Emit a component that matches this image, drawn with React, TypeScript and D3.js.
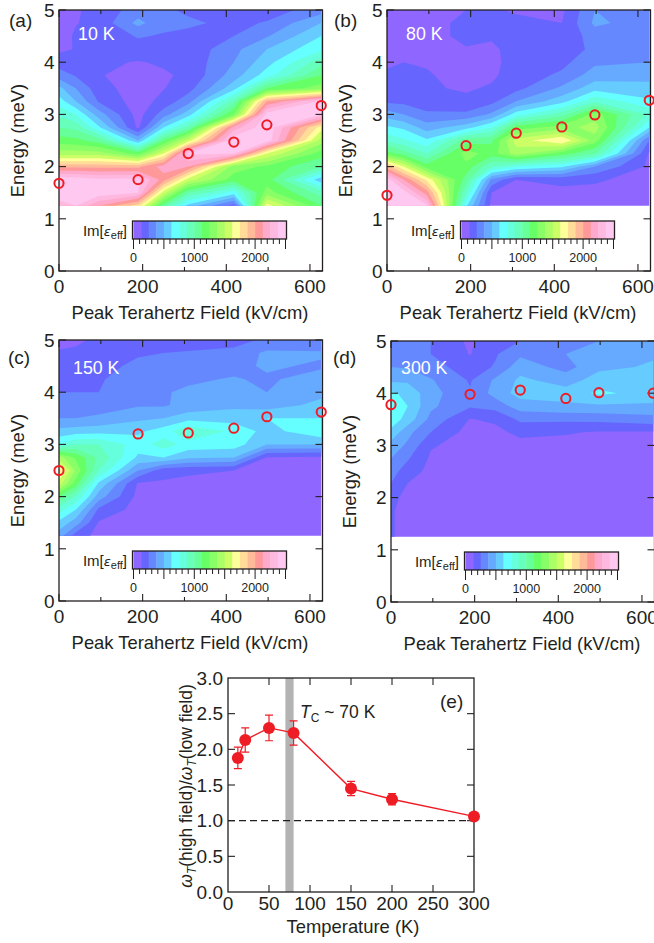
import { useEffect, useRef } from 'react';
import * as d3 from 'd3';

const FONT = 'Liberation Sans, Arial, sans-serif';
const RED = '#ee1c25';
const INK = '#231f20';

// contour grid: columns in kV/cm, rows in meV
const gridFields = [0, 40, 95, 189, 250, 309, 418, 497, 627];
const gridEnergies = [1.25, 1.5, 1.75, 2, 2.25, 2.5, 2.75, 3, 3.25, 3.5, 3.75, 4, 4.25, 4.5, 4.75, 5];

// one entry per colour band of the bar, 125 wide
const bandStep = 125;
const bandColors = [
  '#8f66ff', '#6666ff', '#6688ff', '#66aaff', '#66ccff',
  '#66ffff', '#66ffdd', '#66ffbb', '#66ff99', '#66ff66',
  '#88ff66', '#aaff66', '#ccff66', '#ffff99', '#ffdd99',
  '#ffbb99', '#ff9999', '#ffaacc', '#ffb9e0', '#ffc8f0',
];

// Im[eps_eff] in band units, one row of energies per field column
const im10K = [
  [18.5, 19.7, 19.7, 15.7, 11.5, 9.5, 8, 6.8, 5.5, 4.3, 2.5, 1.5, 0.8, 0.5, 0.3, 0.3],
  [19, 19.7, 19.7, 15.7, 11.5, 9.3, 7.7, 6, 4, 3, 1.9, 1.3, 1.05, 1.15, 0.95, 0.9],
  [17, 19.7, 19.2, 15.7, 11.5, 8.5, 5.2, 3.5, 1.9, 1.4, 1.07, 1.15, 1.2, 1.25, 1.3, 1.3],
  [14.5, 19, 19.3, 15.7, 9.5, 4, 0.8, 0.6, 0.5, 0.5, 0.6, 0.95, 1.5, 2.1, 3.3, 2.5],
  [8.5, 12.5, 16.5, 17.5, 13, 9, 5, 2.5, 1.35, 0.95, 0.9, 1.1, 1.3, 1.9, 2.3, 2.2],
  [4.6, 8, 12.5, 17, 19.2, 12.5, 7.6, 4.6, 2.6, 1.6, 1.15, 1.3, 1.3, 1.7, 2.2, 1.8],
  [1.5, 5.5, 9.5, 10.5, 19, 19.7, 17.5, 10, 7.6, 4.6, 3.5, 3, 2.7, 2, 1.7, 1.2],
  [13.5, 10.5, 9.5, 9.8, 13, 19.7, 19.8, 19.5, 16, 9, 5.5, 4.6, 4, 2.9, 2.1, 1.5],
  [9, 7.5, 4.3, 8, 9.5, 11.5, 13.5, 19, 19.2, 10.5, 9, 7.6, 5.8, 5, 4, 2.5],
];
const im80K = [
  [19.5, 19.7, 19.5, 15.5, 9.5, 6.8, 5.2, 3.5, 1.8, 1.3, 1.1, 0.9, 0.7, 0.7, 0.6, 0.6],
  [19.5, 19.5, 17, 13, 8.5, 6.2, 4.8, 3, 1.7, 1.2, 1.1, 1, 0.75, 0.7, 0.65, 0.65],
  [19.2, 16.5, 13.8, 9.5, 7, 5.2, 3.5, 2.2, 1.4, 1.1, 1.05, 0.95, 0.8, 0.7, 0.7, 0.8],
  [5.2, 7, 8.5, 9.7, 10.5, 8.5, 4.6, 2.2, 1.2, 0.9, 0.8, 0.7, 0.95, 1.2, 1.2, 1],
  [0.7, 1, 2.8, 7, 9.5, 8.8, 6, 3.2, 1.7, 1.1, 0.85, 0.8, 0.85, 1.1, 1.2, 1.1],
  [0.6, 0.7, 1, 6, 11.5, 12.5, 9.5, 5.5, 3, 1.7, 1.4, 1.3, 1.3, 1.3, 1.2, 0.9],
  [0.6, 0.7, 1.3, 5.2, 9.5, 14, 10.5, 7.6, 4.6, 3.2, 2.2, 1.7, 1.3, 1.2, 1, 0.8],
  [0.6, 0.8, 1.1, 3, 8, 10.5, 11.5, 10.5, 6.8, 4.6, 3.5, 2.8, 2.3, 2.5, 3.2, 3],
  [0.6, 0.6, 0.7, 0.8, 0.9, 2, 5, 6.8, 5.2, 4.3, 3.7, 3, 2.8, 2.7, 2.5, 2.2],
];
const im150K = [
  [3.5, 4.7, 6.5, 9, 12.5, 14.5, 11.5, 6, 4.3, 3, 2.2, 2, 1.5, 1.2, 1.05, 0.85],
  [1.5, 3.5, 5, 7, 9.5, 10.8, 9.8, 7, 4.5, 3, 2.2, 2, 1.6, 1.3, 1.1, 0.9],
  [0.7, 0.9, 1.8, 3.5, 4.8, 7, 7.8, 7, 4.6, 3.2, 2.5, 2, 1.9, 1.7, 1.4, 1.1],
  [0.6, 0.6, 0.6, 0.7, 0.9, 3, 4.8, 5.5, 4.8, 3.8, 2.9, 2.8, 2.5, 2.2, 1.9, 1.3],
  [0.6, 0.6, 0.6, 0.6, 0.85, 1.4, 5, 6.5, 5.5, 4, 2.9, 2.95, 2.7, 2.3, 2, 1.4],
  [0.6, 0.6, 0.6, 0.6, 0.7, 1.2, 4.2, 5.6, 6.9, 4.6, 3.3, 3.1, 2.9, 2.5, 2.1, 1.5],
  [0.6, 0.6, 0.6, 0.6, 0.7, 1, 4, 5.5, 5.8, 4.5, 3.8, 3.5, 3.05, 2.8, 2.3, 1.6],
  [0.6, 0.6, 0.6, 0.6, 0.6, 0.7, 0.95, 4, 4.6, 5, 3.5, 3, 2.9, 3.1, 3.2, 2.2],
  [0.6, 0.6, 0.6, 0.6, 0.6, 0.6, 0.8, 4, 5.8, 5, 4.3, 3.7, 3.3, 2.9, 3.1, 2.4],
];
const im300K = [
  [1.1, 1.1, 1.1, 1.3, 1.95, 2.4, 3, 3.6, 4.7, 5.6, 5.8, 5.2, 3.8, 3, 2.4, 2.1],
  [0.65, 0.65, 0.65, 0.7, 0.95, 1.5, 2.1, 2.8, 3.3, 4.6, 5, 4.7, 3.8, 2.9, 2.3, 2.1],
  [0.6, 0.6, 0.6, 0.6, 0.6, 0.7, 0.85, 1.1, 2, 2.7, 3.2, 3.4, 3.1, 2.4, 2, 2],
  [0.6, 0.6, 0.6, 0.6, 0.6, 0.6, 0.6, 0.6, 0.6, 0.95, 2.1, 2.1, 1.9, 1.5, 0.95, 0.8],
  [0.6, 0.6, 0.6, 0.6, 0.6, 0.6, 0.6, 0.6, 0.7, 1.2, 2.4, 3.4, 3.2, 2.1, 1.9, 1.9],
  [0.6, 0.6, 0.6, 0.6, 0.6, 0.6, 0.6, 0.6, 1.3, 2.2, 3.5, 4.4, 4.2, 3.6, 2.8, 2],
  [0.6, 0.6, 0.6, 0.6, 0.6, 0.6, 0.6, 0.6, 1.1, 2.2, 3.8, 4.4, 3.6, 2.6, 3, 2.5],
  [0.6, 0.6, 0.6, 0.6, 0.6, 0.6, 0.6, 0.6, 0.9, 2.3, 3.8, 5.2, 4.4, 3.8, 4, 3],
  [0.6, 0.6, 0.6, 0.6, 0.6, 0.6, 0.6, 0.6, 0.9, 2.6, 3.8, 4.6, 4.3, 4.1, 3.9, 3.5],
];

// red circles: resonance energy at each field
const peakFields = [0, 189, 309, 418, 497, 627];
const peaks10K = [1.68, 1.75, 2.25, 2.47, 2.8, 3.17];
const peaks80K = [1.45, 2.4, 2.64, 2.76, 2.99, 3.27];
const peaks150K = [2.5, 3.2, 3.22, 3.31, 3.53, 3.62];
const peaks300K = [3.78, 3.98, 4.06, 3.9, 4.01, 4.0];

// panel (e)
const ratioTemps = [12, 21, 50, 80, 150, 200, 300];
const ratioValues = [1.88, 2.13, 2.3, 2.23, 1.45, 1.3, 1.06];
const ratioErrors = [0.15, 0.17, 0.18, 0.17, 0.1, 0.08, 0.03];

const panels = [
  { id: '(a)', temp: '10 K', im: im10K, peaks: peaks10K, left: 59, top: 10, bottom: 271, idX: 9, idY: 27, tempX: 78, tempY: 40 },
  { id: '(b)', temp: '80 K', im: im80K, peaks: peaks80K, left: 387, top: 10, bottom: 271, idX: 334, idY: 27, tempX: 406, tempY: 40 },
  { id: '(c)', temp: '150 K', im: im150K, peaks: peaks150K, left: 59, top: 340, bottom: 601, idX: 8, idY: 364, tempX: 73, tempY: 374 },
  { id: '(d)', temp: '300 K', im: im300K, peaks: peaks300K, left: 391, top: 341, bottom: 602, idX: 333, idY: 364, tempX: 401, tempY: 374 },
];

type G = d3.Selection<SVGGElement, unknown, null, undefined>;

function label(g: G, x: number, y: number, text: string, size = 19, anchor = 'start', fill = INK) {
  return g
    .append('text')
    .attr('x', x)
    .attr('y', y)
    .attr('font-size', size)
    .attr('font-family', FONT)
    .attr('text-anchor', anchor)
    .attr('fill', fill)
    .text(text);
}

// inward ticks on all four sides of a frame
function frameTicks(g: G, x: any, y: any, xMajor: number[], xMinor: number[], yMajor: number[]) {
  const [x0, x1] = x.range();
  const [y0, y1] = y.range();
  const line = (a: number, b: number, c: number, d: number) =>
    g.append('line').attr('x1', a).attr('y1', b).attr('x2', c).attr('y2', d).attr('stroke', INK).attr('stroke-width', 1.1);
  xMajor.forEach(v => {
    line(x(v), y0, x(v), y0 - 7);
    line(x(v), y1, x(v), y1 + 7);
  });
  xMinor.forEach(v => {
    line(x(v), y0, x(v), y0 - 4);
    line(x(v), y1, x(v), y1 + 4);
  });
  yMajor.forEach(v => {
    line(x0, y(v), x0 + 7, y(v));
    line(x1, y(v), x1 - 7, y(v));
  });
  g.append('rect')
    .attr('x', x0)
    .attr('y', y1)
    .attr('width', x1 - x0)
    .attr('height', y0 - y1)
    .attr('fill', 'none')
    .attr('stroke', INK)
    .attr('stroke-width', 1.3);
}

function drawMap(root: G, p: (typeof panels)[number]) {
  const g = root.append('g');
  const x = d3.scaleLinear().domain([0, 630]).range([p.left, p.left + 263.5]);
  const y = d3.scaleLinear().domain([0, 5]).range([p.bottom, p.top]);

  const nx = gridFields.length;
  const ny = gridEnergies.length;
  const values: number[] = [];
  gridEnergies.forEach((_, r) => gridFields.forEach((__, c) => values.push(p.im[c][r] * bandStep)));

  // contour coordinates are grid indices + 0.5, map them back on data units
  const colToField = d3.scaleLinear().domain(d3.range(nx)).range(gridFields).clamp(true);
  const rowToEnergy = d3.scaleLinear().domain(d3.range(ny)).range(gridEnergies).clamp(true);
  const path = d3.geoPath(
    d3.geoTransform({
      point(cx: number, cy: number) {
        this.stream.point(x(colToField(cx - 0.5)), y(rowToEnergy(cy - 0.5)));
      },
    })
  );

  const map = g.append('g').attr('filter', 'url(#soft)');
  map
    .append('rect')
    .attr('x', x(gridFields[0]))
    .attr('y', y(gridEnergies[ny - 1]))
    .attr('width', x(gridFields[nx - 1]) - x(gridFields[0]))
    .attr('height', y(gridEnergies[0]) - y(gridEnergies[ny - 1]))
    .attr('fill', bandColors[0]);

  const thresholds = bandColors.slice(1).map((_, i) => (i + 1) * bandStep);
  const contours = d3.contours().size([nx, ny]).thresholds(thresholds)(values);
  map
    .selectAll('path.band')
    .data(contours)
    .join('path')
    .attr('class', 'band')
    .attr('d', d => path(d))
    .attr('fill', (_, i) => bandColors[i + 1]);

  frameTicks(g, x, y, [0, 200, 400, 600], [100, 300, 500], [0, 1, 2, 3, 4, 5]);

  [0, 200, 400, 600].forEach(v => label(g, x(v), p.bottom + 22, String(v), 19, 'middle'));
  [0, 1, 2, 3, 4, 5].forEach(v => label(g, p.left - 4.5, y(v) + 6.8, String(v), 19, 'end'));
  label(g, p.left + 131, p.bottom + 48, 'Peak Terahertz Field (kV/cm)', 18.4, 'middle');
  label(g, 0, 0, 'Energy (meV)', 18.4, 'middle').attr(
    'transform',
    `translate(${p.left - 35},${(p.top + p.bottom) / 2}) rotate(-90)`
  );

  label(root, p.idX, p.idY, p.id, 19);
  label(root, p.tempX, p.tempY, p.temp, 17.8, 'start', '#ffffff');

  g.selectAll('circle')
    .data(p.peaks)
    .join('circle')
    .attr('cx', (_, i) => x(peakFields[i]))
    .attr('cy', d => y(d))
    .attr('r', 4.6)
    .attr('fill', 'none')
    .attr('stroke', RED)
    .attr('stroke-width', 2);

  // colour bar
  const barTop = p.bottom - 50;
  const bar = d3.scaleLinear().domain([0, 2500]).range([p.left + 74.5, p.left + 226.5]);
  g.selectAll('rect.swatch')
    .data(bandColors)
    .join('rect')
    .attr('class', 'swatch')
    .attr('x', (_, i) => bar(i * bandStep))
    .attr('y', barTop)
    .attr('width', bar(bandStep) - bar(0) + 0.4)
    .attr('height', 18)
    .attr('fill', d => d);
  g.append('rect')
    .attr('x', bar(0) - 1)
    .attr('y', barTop)
    .attr('width', bar(2500) - bar(0) + 2)
    .attr('height', 18)
    .attr('fill', 'none')
    .attr('stroke', INK)
    .attr('stroke-width', 1.3);
  d3.range(0, 2501, 100).forEach(v => {
    g.append('line')
      .attr('x1', bar(v))
      .attr('x2', bar(v))
      .attr('y1', barTop + 18)
      .attr('y2', barTop + (v % 500 === 0 ? 28 : 23))
      .attr('stroke', INK)
      .attr('stroke-width', 1);
  });
  [0, 1000, 2000].forEach(v => label(g, bar(v), barTop + 41, String(v), 12.5, 'middle'));

  const imText = label(g, p.left + 68, barTop + 15, '', 15, 'end');
  imText.append('tspan').text('Im[');
  imText.append('tspan').attr('font-family', 'DejaVu Sans').attr('font-style', 'italic').attr('font-size', 13).text('ε');
  imText.append('tspan').attr('font-size', 11).attr('dy', 3).text('eff');
  imText.append('tspan').attr('dy', -3).text(']');
}

function drawRatio(root: G) {
  const g = root.append('g');
  const x = d3.scaleLinear().domain([0, 300]).range([228, 474]);
  const y = d3.scaleLinear().domain([0, 3]).range([892, 678]);

  // Tc marker
  g.append('rect')
    .attr('x', x(70))
    .attr('y', y(3))
    .attr('width', x(80) - x(70))
    .attr('height', y(0) - y(3))
    .attr('fill', '#b3b3b3');

  g.append('line')
    .attr('x1', x(0))
    .attr('x2', x(300))
    .attr('y1', y(1))
    .attr('y2', y(1))
    .attr('stroke', INK)
    .attr('stroke-width', 1.2)
    .attr('stroke-dasharray', '7 4');

  frameTicks(g, x, y, d3.range(50, 300, 50), [], d3.range(0.5, 3, 0.5));

  const line = d3
    .line<number>()
    .x(d => x(d))
    .y((_, i) => y(ratioValues[i]));
  g.append('path').attr('d', line(ratioTemps)).attr('fill', 'none').attr('stroke', RED).attr('stroke-width', 1.4);

  ratioTemps.forEach((t, i) => {
    const top = y(ratioValues[i] + ratioErrors[i]);
    const bot = y(ratioValues[i] - ratioErrors[i]);
    g.append('path')
      .attr('d', `M${x(t)},${top}V${bot}M${x(t) - 4},${top}H${x(t) + 4}M${x(t) - 4},${bot}H${x(t) + 4}`)
      .attr('stroke', RED)
      .attr('stroke-width', 1.2)
      .attr('fill', 'none');
    g.append('circle').attr('cx', x(t)).attr('cy', y(ratioValues[i])).attr('r', 6).attr('fill', RED);
  });

  d3.range(0, 301, 50).forEach(v => label(g, x(v), 910, String(v), 19, 'middle'));
  d3.range(0, 3.01, 0.5).forEach(v => label(g, 223, y(v) + 6.8, v.toFixed(1), 19, 'end'));
  label(g, 353, 933, 'Temperature (K)', 18.4, 'middle');
  label(g, 440, 708, '(e)', 19);

  const tc = label(g, 300, 718, '', 17.5);
  tc.append('tspan').attr('font-style', 'italic').text('T');
  tc.append('tspan').attr('font-size', 12).attr('dy', 4).text('C');
  tc.append('tspan').attr('dy', -4).text(' ~ 70 K');

  const title = label(g, 0, 0, '', 17.5, 'middle').attr('transform', 'translate(192,786) rotate(-90)');
  title.append('tspan').attr('font-style', 'italic').text('ω');
  title.append('tspan').attr('font-style', 'italic').attr('font-size', 12).attr('dy', 4).text('T');
  title.append('tspan').attr('dy', -4).text('(high field)/');
  title.append('tspan').attr('font-style', 'italic').text('ω');
  title.append('tspan').attr('font-style', 'italic').attr('font-size', 12).attr('dy', 4).text('T');
  title.append('tspan').attr('dy', -4).text('(low field)');
}

export default function App() {
  const ref = useRef<SVGSVGElement>(null);

  useEffect(() => {
    const svg = d3.select(ref.current);
    svg.selectAll('*').remove();
    svg
      .append('defs')
      .append('filter')
      .attr('id', 'soft')
      .append('feGaussianBlur')
      .attr('stdDeviation', 0.7);
    const root = svg.append('g') as unknown as G;
    panels.forEach(p => drawMap(root, p));
    drawRatio(root);
  }, []);

  return <svg ref={ref} width={654} height={943} style={{ position: 'absolute', left: 0, top: 0, background: '#fff' }} />;
}
